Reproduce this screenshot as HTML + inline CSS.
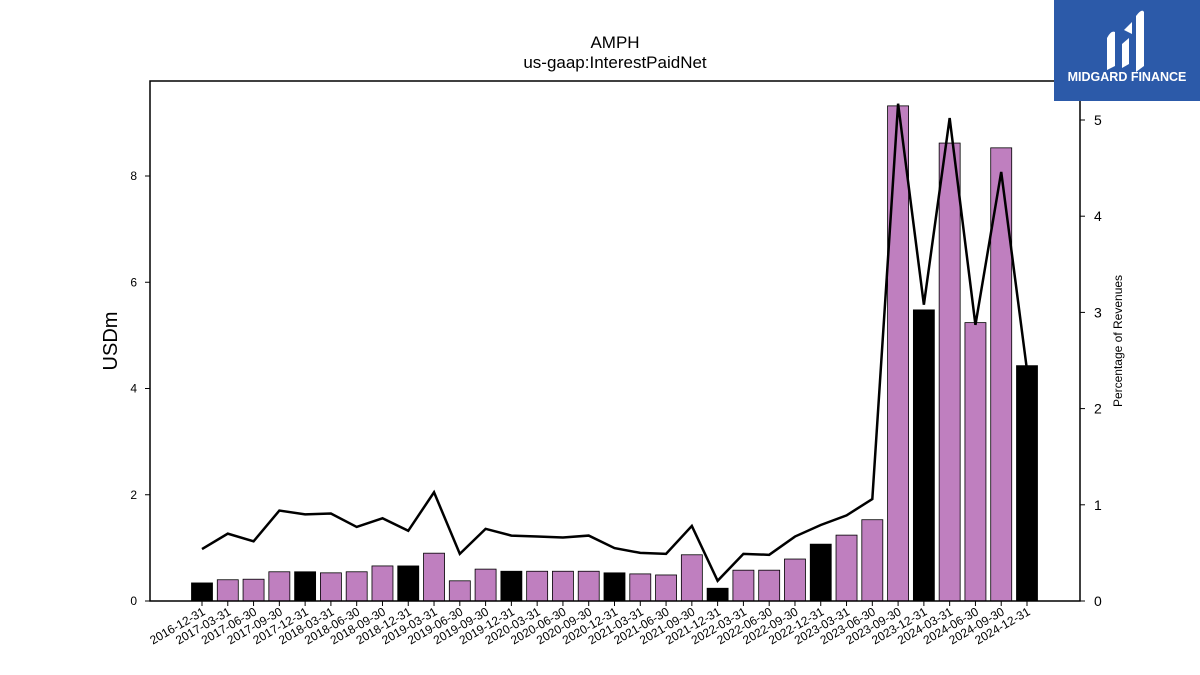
<!DOCTYPE html>
<html><head><meta charset="utf-8"><style>
body{margin:0;background:#fff;font-family:"Liberation Sans",sans-serif}
#logo{position:absolute;left:1054px;top:0;width:146px;height:101px;background:#2c5aa9;color:#fff}
</style></head><body>
<svg id="chart" width="1200" height="675" xmlns="http://www.w3.org/2000/svg" style="position:absolute;left:0;top:0">
<text x="615" y="48" font-size="17" text-anchor="middle">AMPH</text>
<text x="615" y="68" font-size="17" text-anchor="middle">us-gaap:InterestPaidNet</text>
<g id="bars"></g><g id="line"></g><g id="axes"></g>
<rect x="150" y="81" width="930" height="520" fill="none" stroke="#000" stroke-width="1.5"/>
<text transform="translate(117,341) rotate(-90)" font-size="20" text-anchor="middle">USDm</text>
<text transform="translate(1122,341) rotate(-90)" font-size="12" text-anchor="middle">Percentage of Revenues</text>
</svg>
<div id="logo">
<svg width="146" height="101"><path d="M1107 0" /><g fill="#fff"><path d="M53 70 L53 38 Q57 30 61 32 L61 66 Z"/><path d="M68 68 L68 44 L75 38 L75 64 Z"/><path d="M82 72 L82 16 Q88 8 90 12 L90 66 Z"/><path d="M70 30 L78 22 L78 34 Z"/></g>
<text x="73" y="81" font-size="12.5" font-weight="bold" fill="#fff" text-anchor="middle">MIDGARD FINANCE</text></svg></div>
<script>
const categories=["2016-12-31","2017-03-31","2017-06-30","2017-09-30","2017-12-31","2018-03-31","2018-06-30","2018-09-30","2018-12-31","2019-03-31","2019-06-30","2019-09-30","2019-12-31","2020-03-31","2020-06-30","2020-09-30","2020-12-31","2021-03-31","2021-06-30","2021-09-30","2021-12-31","2022-03-31","2022-06-30","2022-09-30","2022-12-31","2023-03-31","2023-06-30","2023-09-30","2023-12-31","2024-03-31","2024-06-30","2024-09-30","2024-12-31"];
const interestPaid=[0.34,0.40,0.41,0.55,0.55,0.53,0.55,0.66,0.66,0.90,0.38,0.60,0.56,0.56,0.56,0.56,0.53,0.51,0.49,0.87,0.24,0.58,0.58,0.79,1.07,1.24,1.53,9.32,5.48,8.62,5.24,8.53,4.43];
const pctRevenue=[0.54,0.70,0.62,0.94,0.90,0.91,0.77,0.86,0.73,1.13,0.49,0.75,0.68,0.67,0.66,0.68,0.55,0.50,0.49,0.78,0.21,0.49,0.48,0.67,0.79,0.89,1.06,5.17,3.08,5.02,2.87,4.46,2.40];
const leftTicks=[0,2,4,6,8];
const rightTicks=[0,1,2,3,4,5];
const NS="http://www.w3.org/2000/svg";
const x=i=>202+i*(1027-202)/(categories.length-1);
const yL=v=>601-v*53.125;
const yR=v=>601-v*96.2;
function mk(t,a,p){const e=document.createElementNS(NS,t);for(const k in a)e.setAttribute(k,a[k]);document.getElementById(p).appendChild(e);return e;}
interestPaid.forEach((v,i)=>{
 const r=mk("rect",{x:x(i)-10.5,y:yL(v),width:21,height:601-yL(v),fill:categories[i].endsWith("12-31")?"#000":"#bf7fbf",stroke:"#000","stroke-width":0.8},"bars");
 
 
 mk("line",{x1:x(i),x2:x(i),y1:601,y2:606,stroke:"#000"},"axes");
 const t=mk("text",{transform:`translate(${x(i)+4},${614}) rotate(-30)`,"font-size":12,"text-anchor":"end"},"axes");
 t.textContent=categories[i];
 
 
});
const pl=mk("polyline",{points:pctRevenue.map((v,i)=>x(i)+","+yR(v)).join(" "),fill:"none",stroke:"#000","stroke-width":2.5},"line");


leftTicks.forEach(v=>{
 mk("line",{x1:145,x2:150,y1:yL(v),y2:yL(v),stroke:"#000"},"axes");
 const t=mk("text",{x:137,y:yL(v)+4,"font-size":12,"text-anchor":"end"},"axes");
 t.textContent=v;
 
 
});
rightTicks.forEach(v=>{
 mk("line",{x1:1080,x2:1085,y1:yR(v),y2:yR(v),stroke:"#000"},"axes");
 const t=mk("text",{x:1094,y:yR(v)+5,"font-size":14},"axes");
 t.textContent=v;
 
 
});
</script>
</body></html>
